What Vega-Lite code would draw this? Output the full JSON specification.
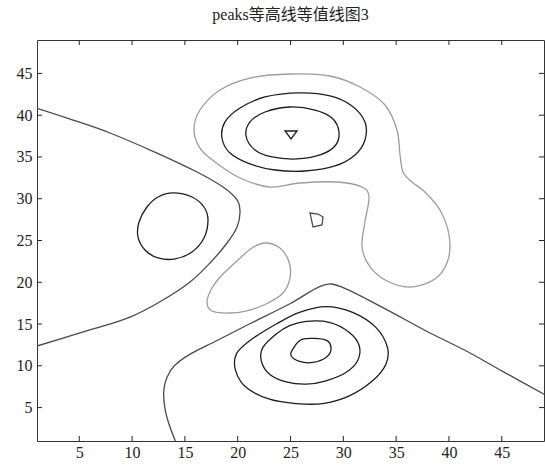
{
  "$schema": "https://vega.github.io/schema/vega-lite/v6.json",
  "autosize": "none",
  "width": 507,
  "height": 401,
  "padding": {"left": 37, "top": 40, "right": 1, "bottom": 24},
  "background": "white",
  "config": {"view": {"stroke": "#333", "strokeWidth": 1}},
  "title": {"text": "peaks等高线等值线图3", "font": "Liberation Serif, Noto Sans CJK SC", "fontSize": 16, "fontWeight": "normal", "color": "#222", "offset": 17, "anchor": "middle"},
  "datasets": {
    "ticks": [{"v":5},{"v":10},{"v":15},{"v":20},{"v":25},{"v":30},{"v":35},{"v":40},{"v":45}]
  },
  "data": {"values": [
    {"c":"A","g":"d","o":1,"x":1,"y":40.82},{"c":"A","g":"d","o":2,"x":4.41,"y":39.42},{"c":"A","g":"d","o":3,"x":7.91,"y":37.87},{"c":"A","g":"d","o":4,"x":12.36,"y":35.47},{"c":"A","g":"d","o":5,"x":16.15,"y":33.2},{"c":"A","g":"d","o":6,"x":18.61,"y":31.4},{"c":"A","g":"d","o":7,"x":19.94,"y":29.85},{"c":"A","g":"d","o":8,"x":20.22,"y":28.41},{"c":"A","g":"d","o":9,"x":19.94,"y":26.62},{"c":"A","g":"d","o":10,"x":18.99,"y":24.7},{"c":"A","g":"d","o":11,"x":17.38,"y":22.31},{"c":"A","g":"d","o":12,"x":15.49,"y":20.03},{"c":"A","g":"d","o":13,"x":12.93,"y":17.88},{"c":"A","g":"d","o":14,"x":9.81,"y":15.84},{"c":"A","g":"d","o":15,"x":5.07,"y":13.93},{"c":"A","g":"d","o":16,"x":1,"y":12.37},

    {"c":"B","g":"k","o":1,"x":13.88,"y":30.69},{"c":"B","g":"k","o":2,"x":15.67,"y":30.21},{"c":"B","g":"k","o":3,"x":16.81,"y":29.01},{"c":"B","g":"k","o":4,"x":17.19,"y":27.45},{"c":"B","g":"k","o":5,"x":16.81,"y":25.3},{"c":"B","g":"k","o":6,"x":15.67,"y":23.62},{"c":"B","g":"k","o":7,"x":14.07,"y":22.79},{"c":"B","g":"k","o":8,"x":12.46,"y":22.91},{"c":"B","g":"k","o":9,"x":11.22,"y":23.86},{"c":"B","g":"k","o":10,"x":10.56,"y":25.42},{"c":"B","g":"k","o":11,"x":10.66,"y":27.22},{"c":"B","g":"k","o":12,"x":11.41,"y":29.01},{"c":"B","g":"k","o":13,"x":12.46,"y":30.21},

    {"c":"C","g":"d","o":1,"x":14.1,"y":1},{"c":"C","g":"d","o":2,"x":13.5,"y":3},{"c":"C","g":"d","o":3,"x":13.1,"y":5},{"c":"C","g":"d","o":4,"x":13.0,"y":7},{"c":"C","g":"d","o":5,"x":13.3,"y":8.6},{"c":"C","g":"d","o":6,"x":14.0,"y":10},{"c":"C","g":"d","o":7,"x":15.5,"y":11.4},{"c":"C","g":"d","o":8,"x":18.0,"y":13.0},{"c":"C","g":"d","o":9,"x":21.1,"y":15.0},{"c":"C","g":"d","o":10,"x":24.9,"y":17.4},{"c":"C","g":"d","o":11,"x":28.0,"y":19.6},{"c":"C","g":"d","o":12,"x":29.9,"y":19.4},{"c":"C","g":"d","o":13,"x":33.7,"y":17.0},{"c":"C","g":"d","o":14,"x":37.8,"y":14.2},{"c":"C","g":"d","o":15,"x":41.6,"y":11.8},{"c":"C","g":"d","o":16,"x":45.0,"y":9.4},{"c":"C","g":"d","o":17,"x":49,"y":6.6},

    {"c":"D","g":"k","o":1,"x":28.36,"y":17.08},{"c":"D","g":"k","o":2,"x":30.88,"y":16.4},{"c":"D","g":"k","o":3,"x":33.08,"y":14.6},{"c":"D","g":"k","o":4,"x":34.18,"y":12.2},{"c":"D","g":"k","o":5,"x":34.03,"y":10.2},{"c":"D","g":"k","o":6,"x":32.77,"y":8.2},{"c":"D","g":"k","o":7,"x":30.57,"y":6.4},{"c":"D","g":"k","o":8,"x":28.05,"y":5.48},{"c":"D","g":"k","o":9,"x":25.53,"y":5.48},{"c":"D","g":"k","o":10,"x":23.02,"y":6.0},{"c":"D","g":"k","o":11,"x":20.82,"y":7.4},{"c":"D","g":"k","o":12,"x":19.81,"y":9.4},{"c":"D","g":"k","o":13,"x":19.87,"y":11.4},{"c":"D","g":"k","o":14,"x":21.13,"y":13.0},{"c":"D","g":"k","o":15,"x":23.65,"y":15.0},{"c":"D","g":"k","o":16,"x":25.85,"y":16.4},

    {"c":"E","g":"k","o":1,"x":26.48,"y":15.32},{"c":"E","g":"k","o":2,"x":28.68,"y":15.2},{"c":"E","g":"k","o":3,"x":30.57,"y":14.0},{"c":"E","g":"k","o":4,"x":31.51,"y":12.4},{"c":"E","g":"k","o":5,"x":31.35,"y":10.6},{"c":"E","g":"k","o":6,"x":30.25,"y":9.2},{"c":"E","g":"k","o":7,"x":28.36,"y":8.2},{"c":"E","g":"k","o":8,"x":26.48,"y":7.8},{"c":"E","g":"k","o":9,"x":24.59,"y":8.08},{"c":"E","g":"k","o":10,"x":23.02,"y":9.0},{"c":"E","g":"k","o":11,"x":22.23,"y":10.6},{"c":"E","g":"k","o":12,"x":22.39,"y":12.2},{"c":"E","g":"k","o":13,"x":23.65,"y":13.8},{"c":"E","g":"k","o":14,"x":24.91,"y":14.8},

    {"c":"F","g":"k","o":1,"x":26.16,"y":13.2},{"c":"F","g":"k","o":2,"x":28.36,"y":13.08},{"c":"F","g":"k","o":3,"x":28.84,"y":12.0},{"c":"F","g":"k","o":4,"x":28.36,"y":11.0},{"c":"F","g":"k","o":5,"x":27.11,"y":10.4},{"c":"F","g":"k","o":6,"x":25.85,"y":10.52},{"c":"F","g":"k","o":7,"x":25.06,"y":11.2},{"c":"F","g":"k","o":8,"x":25.22,"y":12.0},

    {"c":"G","g":"l","o":1,"x":22.59,"y":24.7},{"c":"G","g":"l","o":2,"x":24.0,"y":24.1},{"c":"G","g":"l","o":3,"x":24.86,"y":22.43},{"c":"G","g":"l","o":4,"x":24.95,"y":20.51},{"c":"G","g":"l","o":5,"x":24.29,"y":18.72},{"c":"G","g":"l","o":6,"x":22.87,"y":17.52},{"c":"G","g":"l","o":7,"x":21.17,"y":16.68},{"c":"G","g":"l","o":8,"x":19.27,"y":16.32},{"c":"G","g":"l","o":9,"x":17.57,"y":16.56},{"c":"G","g":"l","o":10,"x":17.09,"y":17.64},{"c":"G","g":"l","o":11,"x":17.57,"y":19.31},{"c":"G","g":"l","o":12,"x":18.51,"y":20.87},{"c":"G","g":"l","o":13,"x":20.03,"y":22.67},{"c":"G","g":"l","o":14,"x":21.35,"y":24.1},

    {"c":"H","g":"l","o":1,"x":24.95,"y":44.93},{"c":"H","g":"l","o":2,"x":28.74,"y":44.69},{"c":"H","g":"l","o":3,"x":31.58,"y":43.37},{"c":"H","g":"l","o":4,"x":33.95,"y":41.22},{"c":"H","g":"l","o":5,"x":35.08,"y":38.23},{"c":"H","g":"l","o":6,"x":35.37,"y":35.24},{"c":"H","g":"l","o":7,"x":35.65,"y":33.2},{"c":"H","g":"l","o":8,"x":36.5,"y":32.0},{"c":"H","g":"l","o":9,"x":37.73,"y":30.81},{"c":"H","g":"l","o":10,"x":39.15,"y":28.65},{"c":"H","g":"l","o":11,"x":40.01,"y":25.66},{"c":"H","g":"l","o":12,"x":39.91,"y":22.67},{"c":"H","g":"l","o":13,"x":38.68,"y":20.39},{"c":"H","g":"l","o":14,"x":36.31,"y":19.43},{"c":"H","g":"l","o":15,"x":34.14,"y":20.15},{"c":"H","g":"l","o":16,"x":32.53,"y":21.83},{"c":"H","g":"l","o":17,"x":31.77,"y":24.22},{"c":"H","g":"l","o":18,"x":32.05,"y":27.22},{"c":"H","g":"l","o":19,"x":32.43,"y":30.21},{"c":"H","g":"l","o":20,"x":31.77,"y":31.4},{"c":"H","g":"l","o":21,"x":29.4,"y":32.0},{"c":"H","g":"l","o":22,"x":25.9,"y":31.88},{"c":"H","g":"l","o":23,"x":23.06,"y":31.4},{"c":"H","g":"l","o":24,"x":20.22,"y":32.48},{"c":"H","g":"l","o":25,"x":17.85,"y":34.4},{"c":"H","g":"l","o":26,"x":16.43,"y":36.07},{"c":"H","g":"l","o":27,"x":15.86,"y":38.23},{"c":"H","g":"l","o":28,"x":16.43,"y":40.62},{"c":"H","g":"l","o":29,"x":18.33,"y":43.02},{"c":"H","g":"l","o":30,"x":21.17,"y":44.45},

    {"c":"I","g":"k","o":1,"x":25.9,"y":42.66},{"c":"I","g":"k","o":2,"x":28.74,"y":42.3},{"c":"I","g":"k","o":3,"x":30.82,"y":41.1},{"c":"I","g":"k","o":4,"x":32.05,"y":39.19},{"c":"I","g":"k","o":5,"x":32.05,"y":37.03},{"c":"I","g":"k","o":6,"x":31.11,"y":35.24},{"c":"I","g":"k","o":7,"x":29.21,"y":33.92},{"c":"I","g":"k","o":8,"x":26.37,"y":33.32},{"c":"I","g":"k","o":9,"x":23.53,"y":33.44},{"c":"I","g":"k","o":10,"x":21.17,"y":34.16},{"c":"I","g":"k","o":11,"x":19.27,"y":35.47},{"c":"I","g":"k","o":12,"x":18.51,"y":37.27},{"c":"I","g":"k","o":13,"x":18.8,"y":39.19},{"c":"I","g":"k","o":14,"x":20.22,"y":40.86},{"c":"I","g":"k","o":15,"x":22.59,"y":42.18},

    {"c":"J","g":"k","o":1,"x":24.95,"y":40.98},{"c":"J","g":"k","o":2,"x":27.32,"y":40.62},{"c":"J","g":"k","o":3,"x":28.93,"y":39.66},{"c":"J","g":"k","o":4,"x":29.59,"y":37.99},{"c":"J","g":"k","o":5,"x":29.21,"y":36.31},{"c":"J","g":"k","o":6,"x":27.79,"y":35.24},{"c":"J","g":"k","o":7,"x":25.62,"y":34.76},{"c":"J","g":"k","o":8,"x":23.25,"y":35.0},{"c":"J","g":"k","o":9,"x":21.64,"y":35.83},{"c":"J","g":"k","o":10,"x":20.79,"y":37.51},{"c":"J","g":"k","o":11,"x":21.17,"y":39.19},{"c":"J","g":"k","o":12,"x":22.59,"y":40.38},

    {"c":"K","g":"k","o":1,"x":24.48,"y":38.11},{"c":"K","g":"k","o":2,"x":25.62,"y":38.11},{"c":"K","g":"k","o":3,"x":25.05,"y":37.15},

    {"c":"L","g":"d","o":1,"x":26.85,"y":28.29},{"c":"L","g":"d","o":2,"x":27.6,"y":28.17},{"c":"L","g":"d","o":3,"x":28.08,"y":27.81},{"c":"L","g":"d","o":4,"x":27.98,"y":26.86},{"c":"L","g":"d","o":5,"x":27.13,"y":26.62}
  ]},
  "layer": [
    {
      "transform": [{"filter": {"field": "c", "oneOf": ["A", "C"]}}],
      "mark": {"type": "line", "strokeWidth": 1.3, "interpolate": "cardinal", "clip": true},
      "encoding": {
        "x": {"field": "x", "type": "quantitative", "scale": {"domain": [1, 49], "nice": false, "zero": false},
              "axis": {"orient": "bottom", "values": [5,10,15,20,25,30,35,40,45], "title": null, "grid": false, "domain": false, "ticks": false, "labelFont": "Liberation Serif", "labelFontSize": 16, "labelColor": "#222", "labelPadding": 3}},
        "y": {"field": "y", "type": "quantitative", "scale": {"domain": [1, 49], "nice": false, "zero": false},
              "axis": {"orient": "left", "values": [5,10,15,20,25,30,35,40,45], "title": null, "grid": false, "domain": false, "ticks": false, "labelFont": "Liberation Serif", "labelFontSize": 16, "labelColor": "#222", "labelPadding": 5}},
        "detail": {"field": "c"},
        "order": {"field": "o", "type": "quantitative"},
        "color": {"field": "g", "type": "nominal", "scale": {"domain": ["k", "d", "l"], "range": ["#1c1c1c", "#4a4a4a", "#9c9c9c"]}, "legend": null}
      }
    },
    {
      "transform": [{"filter": {"not": {"field": "c", "oneOf": ["A", "C", "K", "L"]}}}],
      "mark": {"type": "line", "strokeWidth": 1.3, "interpolate": "cardinal-closed", "clip": true},
      "encoding": {
        "x": {"field": "x", "type": "quantitative", "axis": null},
        "y": {"field": "y", "type": "quantitative", "axis": null},
        "detail": {"field": "c"},
        "order": {"field": "o", "type": "quantitative"},
        "color": {"field": "g", "type": "nominal", "legend": null}
      }
    },
    {
      "transform": [{"filter": {"field": "c", "oneOf": ["K", "L"]}}],
      "mark": {"type": "line", "strokeWidth": 1.3, "interpolate": "linear-closed", "clip": true},
      "encoding": {
        "x": {"field": "x", "type": "quantitative", "axis": null},
        "y": {"field": "y", "type": "quantitative", "axis": null},
        "detail": {"field": "c"},
        "order": {"field": "o", "type": "quantitative"},
        "color": {"field": "g", "type": "nominal", "legend": null}
      }
    },
    {
      "data": {"name": "ticks"},
      "mark": {"type": "rule", "color": "#222", "strokeWidth": 1},
      "encoding": {
        "x": {"field": "v", "type": "quantitative", "axis": null},
        "y": {"datum": 1, "type": "quantitative", "axis": null},
        "y2": {"datum": 1.6}
      }
    },
    {
      "data": {"name": "ticks"},
      "mark": {"type": "rule", "color": "#222", "strokeWidth": 1},
      "encoding": {
        "x": {"field": "v", "type": "quantitative", "axis": null},
        "y": {"datum": 49, "type": "quantitative", "axis": null},
        "y2": {"datum": 48.4}
      }
    },
    {
      "data": {"name": "ticks"},
      "mark": {"type": "rule", "color": "#222", "strokeWidth": 1},
      "encoding": {
        "y": {"field": "v", "type": "quantitative", "axis": null},
        "x": {"datum": 1, "type": "quantitative", "axis": null},
        "x2": {"datum": 1.47}
      }
    },
    {
      "data": {"name": "ticks"},
      "mark": {"type": "rule", "color": "#222", "strokeWidth": 1},
      "encoding": {
        "y": {"field": "v", "type": "quantitative", "axis": null},
        "x": {"datum": 49, "type": "quantitative", "axis": null},
        "x2": {"datum": 48.53}
      }
    }
  ],
  "resolve": {"axis": {"x": "independent", "y": "independent"}}
}
